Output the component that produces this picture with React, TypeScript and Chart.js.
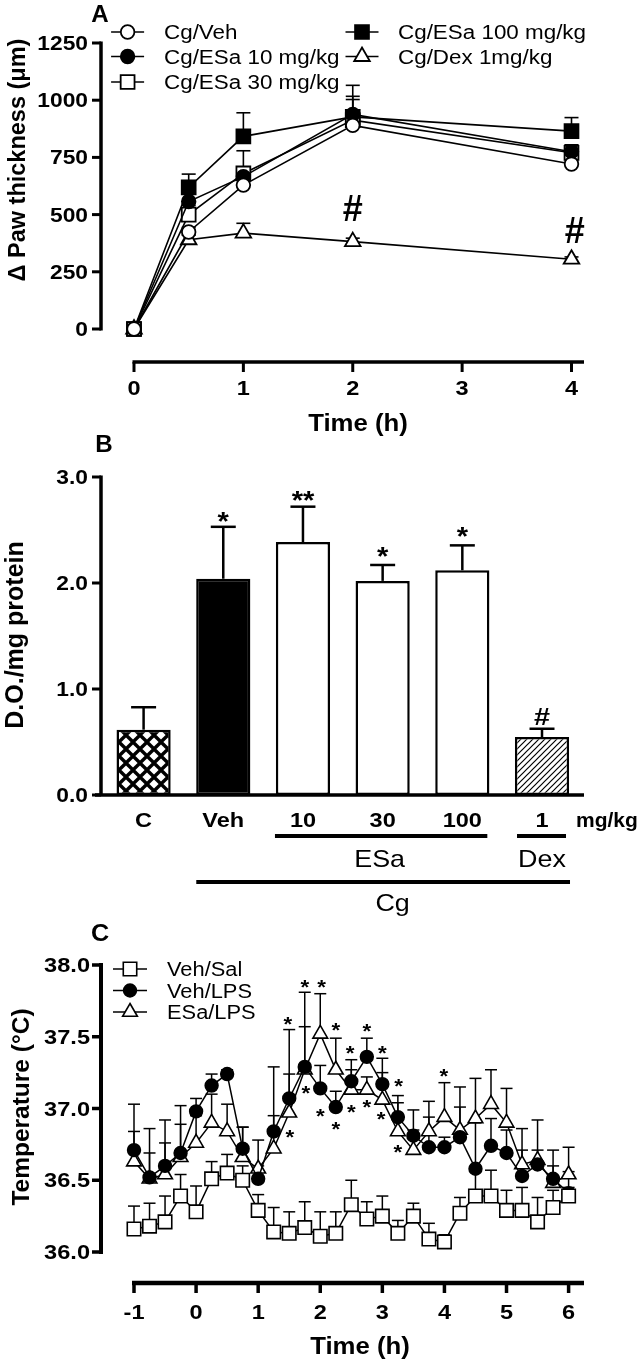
import React, { useEffect, useRef } from "react";
import { Chart, registerables } from "chart.js";
Chart.register(...registerables);

const FF = '"Liberation Sans", Arial, Helvetica, sans-serif';
const SX = 1.12;
const W = 642;
const H = 1361;

// ---------------- Panel A ----------------
const timeA = [0, 0.5, 1, 2, 4];
const xTicksA = [0, 1, 2, 3, 4];
const yTicksA = [0, 250, 500, 750, 1000, 1250];
const cgVeh = [0, 424, 629, 890, 721];
const cgVehSem = [0, 20, 25, 40, 20];
const cgEsa10 = [0, 557, 666, 938, 775];
const cgEsa10Sem = [0, 91, 40, 127, 28];
const cgEsa30 = [0, 500, 680, 913, 770];
const cgEsa30Sem = [0, 40, 99, 90, 35];
const cgEsa100 = [0, 619, 842, 927, 865];
const cgEsa100Sem = [0, 58, 103, 90, 59];
const cgDex = [0, 390, 419, 382, 305];
const cgDexSem = [0, 20, 43, 15, 10];
const hashA = [
  { x: 2, y: 530 },
  { x: 4.03, y: 433 },
];

// ---------------- Panel B ----------------
const catsB = ["C", "Veh", "10", "30", "100", "1"];
const valsB = [0.616, 2.04, 2.387, 2.02, 2.12, 0.547];
const semB = [0.212, 0.49, 0.333, 0.15, 0.235, 0.078];
const marksB = ["", "*", "**", "*", "*", "#"];
const markYB = [0, 2.62, 2.82, 2.29, 2.48, 0.745];
const yTicksB = [0, 1, 2, 3];

// ---------------- Panel C ----------------
const timeC = [-1, -0.75, -0.5, -0.25, 0, 0.25, 0.5, 0.75, 1, 1.25, 1.5, 1.75, 2, 2.25, 2.5, 2.75, 3, 3.25, 3.5, 3.75, 4, 4.25, 4.5, 4.75, 5, 5.25, 5.5, 5.75, 6];
const xTicksC = [-1, 0, 1, 2, 3, 4, 5, 6];
const yTicksC = [36, 36.5, 37, 37.5, 38];
const vehSal = [36.16, 36.18, 36.21, 36.39, 36.28, 36.51, 36.55, 36.5, 36.29, 36.14, 36.13, 36.17, 36.11, 36.13, 36.33, 36.23, 36.25, 36.13, 36.25, 36.09, 36.07, 36.27, 36.39, 36.39, 36.29, 36.29, 36.21, 36.31, 36.39];
const vehSalSem = [0.16, 0.16, 0.18, 0.15, 0.18, 0.12, 0.13, 0.1, 0.11, 0.17, 0.15, 0.18, 0.17, 0.15, 0.17, 0.12, 0.14, 0.09, 0.09, 0.11, 0.05, 0.11, 0.18, 0.18, 0.14, 0.16, 0.17, 0.12, 0.06];
const vehLps = [36.71, 36.52, 36.6, 36.69, 36.98, 37.16, 37.24, 36.72, 36.51, 36.84, 37.07, 37.29, 37.14, 37.01, 37.19, 37.36, 37.17, 36.94, 36.81, 36.73, 36.73, 36.8, 36.58, 36.74, 36.69, 36.53, 36.61, 36.51, 36.41];
const vehLpsSem = [0.32, 0.34, 0.32, 0.33, 0.09, 0.08, 0.03, 0.15, 0.09, 0.45, 0.48, 0.52, 0.16, 0.11, 0.15, 0.13, 0.18, 0.15, 0.18, 0.21, 0.07, 0.21, 0.32, 0.19, 0.16, 0.18, 0.1, 0.2, 0.15];
const esaLps = [36.63, 36.51, 36.54, 36.66, 36.76, 36.9, 36.84, 36.66, 36.58, 36.72, 36.97, 37.27, 37.52, 37.27, 37.13, 37.13, 37.06, 36.84, 36.71, 36.84, 36.94, 36.85, 36.93, 37.03, 36.9, 36.61, 36.64, 36.48, 36.54];
const esaLpsSem = [0.21, 0.18, 0.22, 0.23, 0.19, 0.2, 0.19, 0.21, 0.2, 0.23, 0.27, 0.3, 0.28, 0.22, 0.14, 0.09, 0.19, 0.2, 0.14, 0.21, 0.24, 0.3, 0.28, 0.24, 0.24, 0.25, 0.28, 0.12, 0.19];
const starsUpC = [
  { x: 1.48, y: 37.61 }, { x: 1.75, y: 37.87 }, { x: 2.02, y: 37.87 }, { x: 2.25, y: 37.57 },
  { x: 2.48, y: 37.41 }, { x: 2.75, y: 37.56 }, { x: 3.0, y: 37.41 }, { x: 3.26, y: 37.18 }, { x: 3.99, y: 37.25 },
];
const starsDownC = [
  { x: 1.51, y: 36.82 }, { x: 1.77, y: 37.13 }, { x: 2.0, y: 36.97 }, { x: 2.25, y: 36.88 },
  { x: 2.5, y: 37.0 }, { x: 2.75, y: 37.03 }, { x: 2.98, y: 36.95 }, { x: 3.25, y: 36.72 },
];

type Mk = "circle" | "rect" | "triangle";
interface Series { label: string; data: number[]; sem: number[]; style: Mk; fill: string; r: number }

const seriesA: Series[] = [
  { label: "Cg/Veh", data: cgVeh, sem: cgVehSem, style: "circle", fill: "#fff", r: 6.8 },
  { label: "Cg/ESa 10 mg/kg", data: cgEsa10, sem: cgEsa10Sem, style: "circle", fill: "#000", r: 6.8 },
  { label: "Cg/ESa 30 mg/kg", data: cgEsa30, sem: cgEsa30Sem, style: "rect", fill: "#fff", r: 9.8 },
  { label: "Cg/ESa 100 mg/kg", data: cgEsa100, sem: cgEsa100Sem, style: "rect", fill: "#000", r: 9.8 },
  { label: "Cg/Dex 1mg/kg", data: cgDex, sem: cgDexSem, style: "triangle", fill: "#fff", r: 9 },
];
const seriesC: Series[] = [
  { label: "Veh/Sal", data: vehSal, sem: vehSalSem, style: "rect", fill: "#fff", r: 9.5 },
  { label: "Veh/LPS", data: vehLps, sem: vehLpsSem, style: "circle", fill: "#000", r: 6.4 },
  { label: "ESa/LPS", data: esaLps, sem: esaLpsSem, style: "triangle", fill: "#fff", r: 8.5 },
];

function line(ctx: CanvasRenderingContext2D, x1: number, y1: number, x2: number, y2: number, lw: number) {
  ctx.save();
  ctx.strokeStyle = "#000";
  ctx.lineWidth = lw;
  ctx.lineCap = "butt";
  ctx.beginPath();
  ctx.moveTo(x1, y1);
  ctx.lineTo(x2, y2);
  ctx.stroke();
  ctx.restore();
}

interface TO { bold?: boolean; align?: CanvasTextAlign; sx?: number; rot?: number; cap?: boolean }
function txt(ctx: CanvasRenderingContext2D, s: string, x: number, yc: number, size: number, o: TO = {}) {
  const { bold = true, align = "center", sx = SX, rot = 0, cap = true } = o;
  ctx.save();
  ctx.font = `${bold ? "bold " : ""}${size}px ${FF}`;
  ctx.textAlign = align;
  ctx.textBaseline = "alphabetic";
  let off: number;
  if (cap) {
    const m = ctx.measureText("H");
    off = m.actualBoundingBoxAscent / 2;
  } else {
    const m = ctx.measureText(s);
    off = (m.actualBoundingBoxAscent - m.actualBoundingBoxDescent) / 2;
  }
  ctx.translate(x, yc);
  if (rot) ctx.rotate(rot);
  ctx.scale(sx, 1);
  ctx.fillStyle = "#000";
  ctx.fillText(s, 0, off);
  ctx.restore();
}

function drawMarker(ctx: CanvasRenderingContext2D, style: Mk, x: number, y: number, r: number, fill: string, lw: number) {
  ctx.save();
  ctx.beginPath();
  if (style === "circle") ctx.arc(x, y, r, 0, Math.PI * 2);
  else if (style === "rect") {
    const s = r * Math.SQRT1_2;
    ctx.rect(x - s, y - s, 2 * s, 2 * s);
  } else {
    for (let k = 0; k < 3; k++) {
      const a = (k * 2 * Math.PI) / 3;
      const px = x + Math.sin(a) * r;
      const py = y - Math.cos(a) * r;
      if (k === 0) ctx.moveTo(px, py);
      else ctx.lineTo(px, py);
    }
    ctx.closePath();
  }
  ctx.fillStyle = fill;
  ctx.fill();
  ctx.lineWidth = lw;
  ctx.strokeStyle = "#000";
  ctx.stroke();
  ctx.restore();
}

function makeCross(): CanvasPattern | string {
  const c = document.createElement("canvas");
  const t = 14;
  c.width = t;
  c.height = t;
  const g = c.getContext("2d");
  if (!g) return "#000";
  g.fillStyle = "#000";
  g.fillRect(0, 0, t, t);
  g.fillStyle = "#fff";
  const d = (cx: number, cy: number, h: number) => {
    g.beginPath();
    g.moveTo(cx, cy - h);
    g.lineTo(cx + h, cy);
    g.lineTo(cx, cy + h);
    g.lineTo(cx - h, cy);
    g.closePath();
    g.fill();
  };
  const h = 4.6;
  d(t / 2, t / 2, h);
  d(0, 0, h);
  d(t, 0, h);
  d(0, t, h);
  d(t, t, h);
  return g.createPattern(c, "repeat") || "#000";
}

function makeHatch(): CanvasPattern | string {
  const c = document.createElement("canvas");
  const t = 6;
  c.width = t;
  c.height = t;
  const g = c.getContext("2d");
  if (!g) return "#fff";
  g.fillStyle = "#fff";
  g.fillRect(0, 0, t, t);
  g.strokeStyle = "#000";
  g.lineWidth = 1.2;
  g.beginPath();
  g.moveTo(-1, t + 1);
  g.lineTo(t + 1, -1);
  g.moveTo(-1, 1);
  g.lineTo(1, -1);
  g.moveTo(t - 1, t + 1);
  g.lineTo(t + 1, t - 1);
  g.stroke();
  return g.createPattern(c, "repeat") || "#fff";
}

function errPlugin(id: string, xs: number[], series: Series[], capW: number, lw: number) {
  return {
    id,
    beforeDatasetsDraw(chart: any) {
      const { ctx } = chart;
      const sx = chart.scales.x;
      const sy = chart.scales.y;
      series.forEach((s) => {
        xs.forEach((t, i) => {
          const e = s.sem[i];
          if (!e) return;
          const px = sx.getPixelForValue(t);
          const p0 = sy.getPixelForValue(s.data[i]);
          const p1 = sy.getPixelForValue(s.data[i] + e);
          line(ctx, px, p0, px, p1, lw);
          line(ctx, px - capW / 2, p1, px + capW / 2, p1, lw);
        });
      });
    },
  };
}

function lineDatasets(xs: number[], series: Series[], lw: number, plw: number) {
  return series.map((s) => ({
    label: s.label,
    data: xs.map((t, i) => ({ x: t, y: s.data[i] })),
    borderColor: "#000",
    borderWidth: lw,
    pointStyle: s.style,
    pointRadius: s.r,
    pointHoverRadius: s.r,
    pointBackgroundColor: s.fill,
    pointBorderColor: "#000",
    pointBorderWidth: plw,
    fill: false,
    tension: 0,
    clip: false as any,
  }));
}

function baseOptions(pad: { left: number; right: number; top: number; bottom: number }) {
  return {
    animation: false as const,
    responsive: false,
    devicePixelRatio: 1,
    events: [] as any[],
    layout: { padding: pad },
    plugins: { legend: { display: false }, tooltip: { enabled: false } },
  };
}

function buildA(canvas: HTMLCanvasElement) {
  const deco = {
    id: "decoA",
    afterDraw(chart: any) {
      const ctx = chart.ctx as CanvasRenderingContext2D;
      const x = chart.scales.x;
      const y = chart.scales.y;
      const axX = 101;
      line(ctx, axX, y.getPixelForValue(1250) - 1.5, axX, y.getPixelForValue(0) + 1.5, 3.5);
      yTicksA.forEach((v) => {
        const py = y.getPixelForValue(v);
        line(ctx, axX - 9, py, axX, py, 3);
        txt(ctx, String(v), 88, py, 20, { align: "right", sx: 1.14 });
      });
      const axY = 362;
      line(ctx, x.getPixelForValue(0) - 1.5, axY, 584, axY, 3.5);
      xTicksA.forEach((v) => {
        const px = x.getPixelForValue(v);
        line(ctx, px, axY, px, axY + 10, 3);
        txt(ctx, String(v), px, 388, 21);
      });
      txt(ctx, "Time (h)", 358, 422, 23);
      txt(ctx, "\u0394 Paw thickness (\u03bcm)", 16, 160, 23.5, { rot: -Math.PI / 2, sx: 1 });
      txt(ctx, "A", 100, 13, 23, { sx: 1.05 });
      hashA.forEach((h) => txt(ctx, "#", x.getPixelForValue(h.x), y.getPixelForValue(h.y), 36, { sx: 1, cap: false }));
      const leg = [
        { s: seriesA[0], cx: 127.6, cy: 32, tx: 164 },
        { s: seriesA[1], cx: 127.6, cy: 56.5, tx: 164 },
        { s: seriesA[2], cx: 127.6, cy: 82, tx: 164 },
        { s: seriesA[3], cx: 362, cy: 32, tx: 398 },
        { s: seriesA[4], cx: 362, cy: 56.5, tx: 398 },
      ];
      leg.forEach((l) => {
        line(ctx, l.cx - 16.5, l.cy, l.cx + 16.5, l.cy, 1.6);
        drawMarker(ctx, l.s.style, l.cx, l.cy, l.s.r, l.s.fill, 1.8);
        txt(ctx, l.s.label, l.tx, l.cy, 20, { bold: false, align: "left" });
      });
    },
  };
  return new Chart(canvas, {
    type: "line",
    data: { datasets: lineDatasets(timeA, seriesA, 1.6, 1.8) as any },
    options: {
      ...baseOptions({ left: 134, right: W - 571.5, top: 43, bottom: H - 329 }),
      scales: {
        x: { type: "linear", min: 0, max: 4, display: false },
        y: { type: "linear", min: 0, max: 1250, display: false },
      },
    } as any,
    plugins: [errPlugin("errA", timeA, seriesA, 14, 1.6), deco],
  });
}

function buildB(canvas: HTMLCanvasElement) {
  const cross = makeCross();
  const hatch = makeHatch();
  const deco = {
    id: "decoB",
    afterDraw(chart: any) {
      const ctx = chart.ctx as CanvasRenderingContext2D;
      const y = chart.scales.y;
      const bars = chart.getDatasetMeta(0).data;
      const axX = 101;
      line(ctx, axX, y.getPixelForValue(3) - 1.5, axX, y.getPixelForValue(0), 3.5);
      yTicksB.forEach((v) => {
        const py = y.getPixelForValue(v);
        line(ctx, axX - 9, py, axX, py, 3);
        txt(ctx, v.toFixed(1), 88, py, 20, { align: "right", sx: 1.14 });
      });
      const y0 = y.getPixelForValue(0);
      line(ctx, 95, y0, 584, y0, 3.5);
      bars.forEach((b: any, i: number) => {
        const top = y.getPixelForValue(valsB[i]);
        const end = y.getPixelForValue(valsB[i] + semB[i]);
        line(ctx, b.x, top, b.x, end, 2.5);
        line(ctx, b.x - 12.5, end, b.x + 12.5, end, 2.5);
        if (marksB[i]) {
          const isHash = marksB[i] === "#";
          txt(ctx, marksB[i], b.x, y.getPixelForValue(markYB[i]), isHash ? 24 : 26, { cap: false, sx: isHash ? 1.2 : SX });
        }
        txt(ctx, catsB[i], b.x, 820, 21);
      });
      txt(ctx, "mg/kg", 576, 820, 20, { align: "left", sx: 1.05 });
      const d = bars.map((b: any) => b.x);
      line(ctx, d[2] - 28, 836, d[4] + 25, 836, 4);
      txt(ctx, "ESa", (d[2] + d[4]) / 2 - 3, 858, 24, { bold: false });
      line(ctx, d[5] - 25, 836, d[5] + 24, 836, 4);
      txt(ctx, "Dex", d[5], 858, 24, { bold: false });
      line(ctx, d[1] - 27, 882, d[5] + 28, 882, 4);
      txt(ctx, "Cg", (d[1] + d[5]) / 2 + 10, 902, 24, { bold: false });
      txt(ctx, "B", 104, 443, 23, { sx: 1.05 });
      txt(ctx, "D.O./mg protein", 14, 635, 25, { rot: -Math.PI / 2, sx: 1 });
    },
  };
  return new Chart(canvas, {
    type: "bar",
    data: {
      labels: catsB,
      datasets: [
        {
          data: valsB,
          backgroundColor: [cross, "#000", "#fff", "#fff", "#fff", hatch] as any,
          borderColor: "#000",
          borderWidth: 2.5,
          borderSkipped: false,
          barPercentage: 0.68,
          categoryPercentage: 1,
        },
      ],
    },
    options: {
      ...baseOptions({ left: 103.75, right: W - 581.85, top: 477, bottom: H - 795 }),
      scales: {
        x: { type: "category", display: false, offset: true },
        y: { type: "linear", min: 0, max: 3, display: false },
      },
    } as any,
    plugins: [deco],
  });
}

function buildC(canvas: HTMLCanvasElement) {
  const deco = {
    id: "decoC",
    afterDraw(chart: any) {
      const ctx = chart.ctx as CanvasRenderingContext2D;
      const x = chart.scales.x;
      const y = chart.scales.y;
      const axX = 101;
      line(ctx, axX, y.getPixelForValue(38) - 2, axX, y.getPixelForValue(36) + 2, 4);
      yTicksC.forEach((v) => {
        const py = y.getPixelForValue(v);
        line(ctx, axX - 9, py, axX, py, 3.5);
        txt(ctx, v.toFixed(1), 90, py, 20.5, { align: "right", sx: 1.15 });
      });
      const axY = 1283;
      line(ctx, x.getPixelForValue(-1) - 2, axY, 584, axY, 4.5);
      xTicksC.forEach((v) => {
        const px = x.getPixelForValue(v);
        line(ctx, px, axY, px, axY + 10, 3.5);
        txt(ctx, String(v), px, 1312, 21);
      });
      txt(ctx, "Time (h)", 360, 1345, 23);
      txt(ctx, "Temperature (\u00b0C)", 20, 1107, 24.5, { rot: -Math.PI / 2, sx: 1 });
      txt(ctx, "C", 100, 932, 24, { sx: 1.05 });
      starsUpC.concat(starsDownC).forEach((s) =>
        txt(ctx, "*", x.getPixelForValue(s.x), y.getPixelForValue(s.y), 20, { cap: false })
      );
      const rows = [969, 990.5, 1012];
      seriesC.forEach((s, i) => {
        const cx = 130;
        const cy = rows[i];
        line(ctx, cx - 17, cy, cx + 17, cy, 1.5);
        drawMarker(ctx, s.style, cx, cy, s.r, s.fill, 1.6);
        txt(ctx, s.label, 167, cy, 19.5, { bold: false, align: "left" });
      });
    },
  };
  return new Chart(canvas, {
    type: "line",
    data: { datasets: lineDatasets(timeC, seriesC, 1.5, 1.6) as any },
    options: {
      ...baseOptions({ left: 134, right: W - 568.6, top: 965, bottom: H - 1252 }),
      scales: {
        x: { type: "linear", min: -1, max: 6, display: false },
        y: { type: "linear", min: 36, max: 38, display: false },
      },
    } as any,
    plugins: [errPlugin("errC", timeC, seriesC, 12, 1.5), deco],
  });
}

export default function App() {
  const refA = useRef<HTMLCanvasElement>(null);
  const refB = useRef<HTMLCanvasElement>(null);
  const refC = useRef<HTMLCanvasElement>(null);

  useEffect(() => {
    const charts: Chart[] = [];
    if (refA.current) charts.push(buildA(refA.current));
    if (refB.current) charts.push(buildB(refB.current));
    if (refC.current) charts.push(buildC(refC.current));
    return () => charts.forEach((c) => c.destroy());
  }, []);

  const cs: React.CSSProperties = { position: "absolute", left: 0, top: 0, width: W, height: H };
  return (
    <div style={{ position: "absolute", left: 0, top: 0, width: W, height: H, background: "#fff", overflow: "hidden" }}>
      <canvas ref={refA} width={W} height={H} style={cs} />
      <canvas ref={refB} width={W} height={H} style={cs} />
      <canvas ref={refC} width={W} height={H} style={cs} />
    </div>
  );
}
